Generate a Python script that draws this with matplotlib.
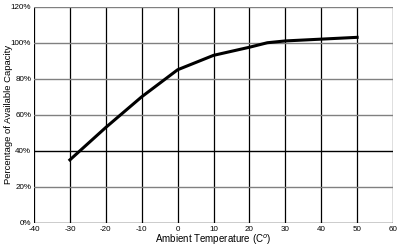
import matplotlib
matplotlib.use("Agg")
import matplotlib.pyplot as plt

temps = [-30, -20, -10, 0, 10, 20, 25, 30, 40, 50]
capacity = [35, 53, 70, 85, 93, 97.5, 100, 101, 102, 103]
xticks = [-40, -30, -20, -10, 0, 10, 20, 30, 40, 50, 60]
yticks = [0, 20, 40, 60, 80, 100, 120]

plt.rcParams['font.family'] = ['Liberation Sans', 'DejaVu Sans']
fig = plt.figure(figsize=(4, 2.48), dpi=100)
ax = fig.add_axes([0.085, 0.101, 0.8975, 0.872])
ax.set_xlim(-40, 60)
ax.set_ylim(0, 120)
for x in xticks:
    ax.axvline(x, color='black', lw=0.9, zorder=1)
for y in yticks:
    c = 'black' if y in (0, 40) else '#808080'
    ax.axhline(y, color=c, lw=1.0, zorder=1)
ax.plot(temps, capacity, color='black', lw=2.2, zorder=3)
for s in ax.spines.values():
    s.set_visible(False)
ax.set_xticks(xticks)
ax.set_xticklabels([str(x) for x in xticks], fontsize=5.8)
ax.set_yticks(yticks)
ax.set_yticklabels([f"{y}%" for y in yticks], fontsize=5.8)
ax.tick_params(length=0, pad=2)
ax.set_xlabel("Ambient Temperature (C$^{o}$)", fontsize=7, labelpad=0)
ax.set_ylabel("Percentage of Available Capacity", fontsize=6.8, va='center')
ax.yaxis.set_label_coords(-0.072, 0.5)
fig.savefig("out.png", dpi=100)
